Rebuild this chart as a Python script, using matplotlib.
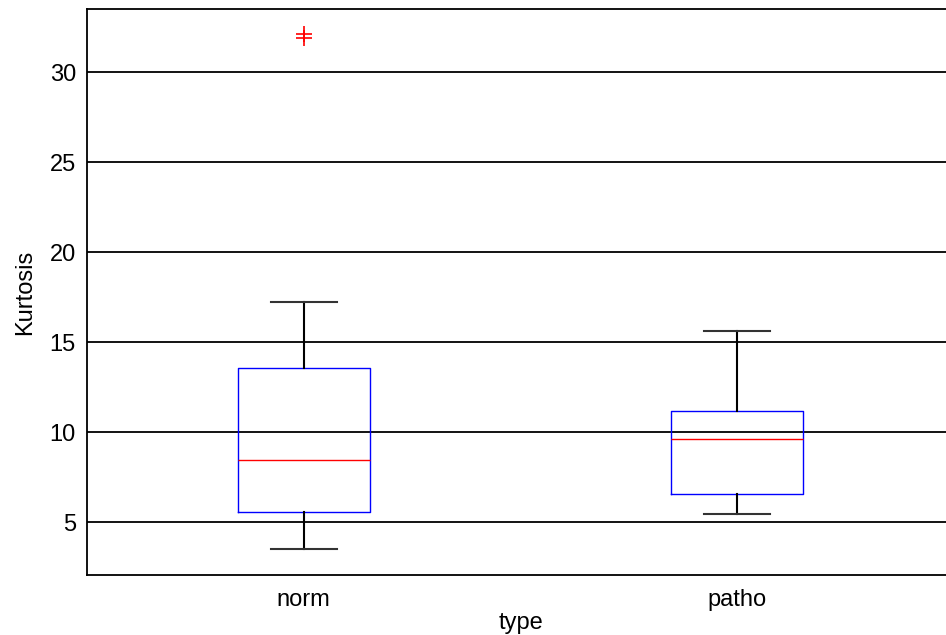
import matplotlib
matplotlib.use("Agg")
import matplotlib.pyplot as plt

groups = ["norm", "patho"]
whisker_low = [3.5, 5.46]
q1 = [5.57, 6.57]
median = [8.43, 9.61]
q3 = [13.54, 11.18]
whisker_high = [17.2, 15.63]
outliers = [[32.09, 31.87], []]

plt.rcParams['font.family'] = ['Liberation Sans', 'DejaVu Sans']

stats = []
for i, name in enumerate(groups):
    stats.append({
        'label': name,
        'whislo': whisker_low[i],
        'q1': q1[i],
        'med': median[i],
        'q3': q3[i],
        'whishi': whisker_high[i],
        'fliers': outliers[i],
    })

fig = plt.figure(figsize=(9.46, 6.35), dpi=100)
ax = fig.add_axes([87 / 946, 60 / 635, (954 - 87) / 946, (575 - 9) / 635])

ax.bxp(stats, positions=[1, 2], widths=0.304, showfliers=True,
       boxprops=dict(color='#0000ff', linewidth=1.0),
       medianprops=dict(color='#ff0000', linewidth=1.0),
       whiskerprops=dict(color='black', linewidth=1.5, linestyle='-'),
       capprops=dict(color='#333333', linewidth=1.5),
       flierprops=dict(marker='+', markeredgecolor='#ff0000', markersize=12,
                       markeredgewidth=1.2, linestyle='none'),
       zorder=3)

ax.set_xlim(0.5, 2.5)
ax.set_ylim(2.06, 33.5)
ax.set_yticks([5, 10, 15, 20, 25, 30])
ax.yaxis.grid(True, color='black', linewidth=1.3, linestyle='-')
ax.set_axisbelow(True)

ax.tick_params(axis='x', length=0, labelsize=17, pad=10)
ax.tick_params(axis='y', length=0, labelsize=17, pad=8)
for s in ax.spines.values():
    s.set_color('black')
    s.set_linewidth(1.3)

ax.set_xlabel('type', fontsize=17, labelpad=1)
ax.set_ylabel('Kurtosis', fontsize=17, labelpad=10)

fig.savefig('out.png', dpi=100)
